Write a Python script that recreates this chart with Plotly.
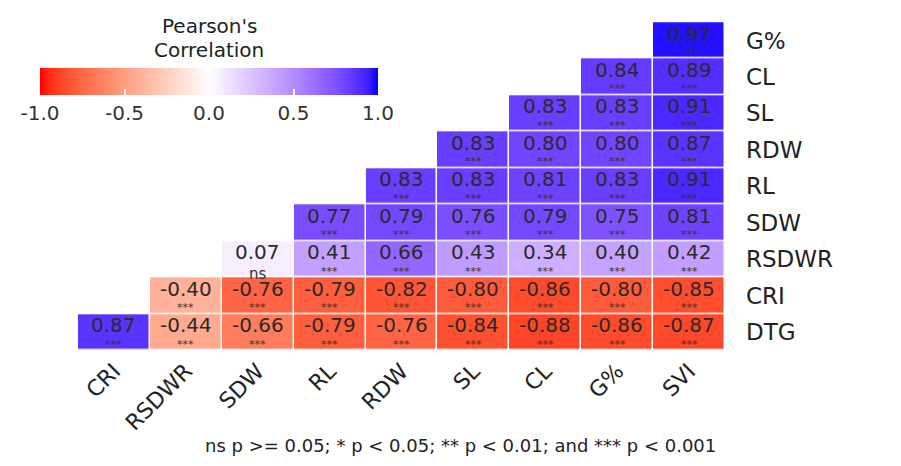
import plotly.graph_objects as go
import numpy as np

x_labels = ["CRI", "RSDWR", "SDW", "RL", "RDW", "SL", "CL", "G%", "SVI"]
y_labels = ["G%", "CL", "SL", "RDW", "RL", "SDW", "RSDWR", "CRI", "DTG"]

row_G = [None, None, None, None, None, None, None, None, 0.97]
row_CL = [None, None, None, None, None, None, None, 0.84, 0.89]
row_SL = [None, None, None, None, None, None, 0.83, 0.83, 0.91]
row_RDW = [None, None, None, None, None, 0.83, 0.80, 0.80, 0.87]
row_RL = [None, None, None, None, 0.83, 0.83, 0.81, 0.83, 0.91]
row_SDW = [None, None, None, 0.77, 0.79, 0.76, 0.79, 0.75, 0.81]
row_RSDWR = [None, None, 0.07, 0.41, 0.66, 0.43, 0.34, 0.40, 0.42]
row_CRI = [None, -0.40, -0.76, -0.79, -0.82, -0.80, -0.86, -0.80, -0.85]
row_DTG = [0.87, -0.44, -0.66, -0.79, -0.76, -0.84, -0.88, -0.86, -0.87]

z = [row_G, row_CL, row_SL, row_RDW, row_RL, row_SDW, row_RSDWR, row_CRI, row_DTG]

# significance: all *** except RSDWR vs SDW
sig = [["***" if v is not None else None for v in r] for r in z]
sig[6][2] = "ns"

colorbar_ticks = [-1.0, -0.5, 0.0, 0.5, 1.0]
footnote = "ns p >= 0.05; * p < 0.05; ** p < 0.01; and *** p < 0.001"


# --- Lab interpolation (like ggplot2's scale_fill_gradient2) ---
def srgb_to_lin(c):
    c = c / 255.0
    return np.where(c <= 0.04045, c / 12.92, ((c + 0.055) / 1.055) ** 2.4)


def lin_to_srgb(c):
    c = np.clip(c, 0, 1)
    v = np.where(c <= 0.0031308, 12.92 * c, 1.055 * c ** (1 / 2.4) - 0.055)
    return np.clip(np.round(v * 255), 0, 255).astype(int)


M = np.array([[0.4124, 0.3576, 0.1805], [0.2126, 0.7152, 0.0722], [0.0193, 0.1192, 0.9505]])
Minv = np.linalg.inv(M)
WP = np.array([0.95047, 1.0, 1.08883])


def f(t):
    return np.where(t > (6 / 29) ** 3, np.cbrt(t), t / (3 * (6 / 29) ** 2) + 4 / 29)


def finv(t):
    return np.where(t > 6 / 29, t ** 3, 3 * (6 / 29) ** 2 * (t - 4 / 29))


def rgb_to_lab(rgb):
    xyz = M @ srgb_to_lin(np.array(rgb, dtype=float)) / WP
    fx, fy, fz = f(xyz)
    return np.array([116 * fy - 16, 500 * (fx - fy), 200 * (fy - fz)])


def lab_to_rgb(lab):
    L_, a, b = lab
    fy = (L_ + 16) / 116
    fx = fy + a / 500
    fz = fy - b / 200
    xyz = np.array([finv(fx), finv(fy), finv(fz)]) * WP
    return lin_to_srgb(Minv @ xyz)


red = rgb_to_lab([255, 0, 0])
white = rgb_to_lab([255, 255, 255])
blue = rgb_to_lab([0, 0, 255])
colorscale = []
n = 20
for i in range(n + 1):
    t = i / n
    r, g, b = lab_to_rgb(red + (white - red) * t)
    colorscale.append([t * 0.5, f"rgb({r},{g},{b})"])
for i in range(1, n + 1):
    t = i / n
    r, g, b = lab_to_rgb(white + (blue - white) * t)
    colorscale.append([0.5 + t * 0.5, f"rgb({r},{g},{b})"])

FONT = "DejaVu Sans"
OFF = 8  # page body margin
W, H = 901 - 2 * OFF, 466 - 2 * OFF
L, T = 78 - OFF, 20 - OFF
PW, PH = 647, 333
R, B = W - L - PW, H - T - PH


def px(X):
    return (X - OFF - L) / PW


def py(Y):
    return (T + PH - (Y - OFF)) / PH


fig = go.Figure()
fig.add_trace(go.Heatmap(
    z=z, x=x_labels, y=y_labels,
    zmin=-1, zmax=1,
    colorscale=colorscale,
    xgap=1.5, ygap=1.5,
    hoverongaps=False,
    colorbar=dict(
        orientation="h",
        x=px(209), xanchor="center",
        y=py(68), yanchor="top",
        len=358, lenmode="pixels",
        thickness=27, xpad=10, ypad=0,
        outlinewidth=0,
        tickvals=colorbar_ticks,
        ticktext=[f"{v:.1f}" for v in colorbar_ticks],
        ticks="inside", ticklen=6, tickcolor="white", tickwidth=1.5,
        tickfont=dict(family=FONT, size=20, color="#333333"),
        ticklabelposition="outside bottom",
    ),
))

annotations = []
for i, yl in enumerate(y_labels):
    for j, xl in enumerate(x_labels):
        v = z[i][j]
        if v is None:
            continue
        annotations.append(dict(
            x=xl, y=yl, xref="x", yref="y", text=f"{v:.2f}", showarrow=False,
            yshift=7, font=dict(family=FONT, size=20, color="#2a2a2a"),
        ))
        s = sig[i][j]
        annotations.append(dict(
            x=xl, y=yl, xref="x", yref="y", text=s, showarrow=False,
            yshift=-12 if s == "***" else -15,
            font=dict(family=FONT, size=11 if s == "***" else 15, color="#333333"),
        ))

annotations.append(dict(
    x=px(209), y=py(26), xref="paper", yref="paper",
    text="Pearson's", showarrow=False, xanchor="center", yanchor="middle",
    font=dict(family=FONT, size=20, color="#222222"),
))
annotations.append(dict(
    x=px(209), y=py(50), xref="paper", yref="paper",
    text="Correlation", showarrow=False, xanchor="center", yanchor="middle",
    font=dict(family=FONT, size=20, color="#222222"),
))
annotations.append(dict(
    x=px(718), y=py(445), xref="paper", yref="paper",
    text=footnote, showarrow=False, xanchor="right", yanchor="middle",
    font=dict(family=FONT, size=18, color="#222222"),
))

fig.update_layout(
    width=W, height=H,
    margin=dict(l=L, r=R, t=T, b=B, autoexpand=False),
    paper_bgcolor="white", plot_bgcolor="white",
    annotations=annotations,
    xaxis=dict(
        type="category", categoryorder="array", categoryarray=x_labels,
        showgrid=False, zeroline=False, showline=False, ticks="",
        automargin=False,
        tickangle=-45, tickfont=dict(family=FONT, size=22, color="#222222"),
    ),
    yaxis=dict(
        type="category", categoryorder="array", categoryarray=y_labels,
        autorange="reversed", side="right", automargin=False,
        showgrid=False, zeroline=False, showline=False, ticks="",
        ticklabelstandoff=20,
        tickfont=dict(family=FONT, size=23, color="#222222"),
    ),
)

fig.write_html("out.html")
